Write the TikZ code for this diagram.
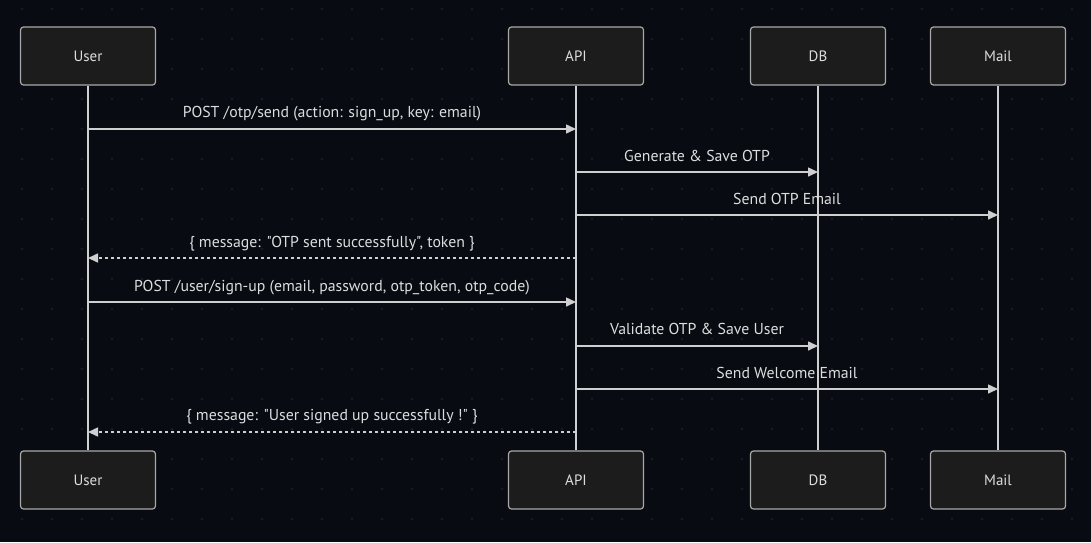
\documentclass[tikz,border=0pt]{standalone}
\usepackage{fontspec}
\setmainfont{PT Sans}[Ligatures=TeXOff]
\usetikzlibrary{arrows.meta}
\definecolor{bgc}{HTML}{080B12}
\definecolor{dotc}{HTML}{181C25}
\definecolor{boxfill}{HTML}{1C1C1C}
\definecolor{boxline}{HTML}{A8A8A8}
\definecolor{txt}{HTML}{DDDDDD}
\definecolor{linec}{HTML}{CFCFCF}
\tikzset{
  actor/.style={draw=boxline, fill=boxfill, line width=1.2pt, rounded corners=3pt,
    minimum width=135pt, minimum height=58pt, inner sep=0pt, text=txt,
    font=\fontsize{15}{17}\selectfont},
  life/.style={draw=linec, line width=1.5pt},
  msg/.style={draw=linec, line width=1.5pt, -{Triangle[length=10pt,width=9pt]}},
  reply/.style={msg, dash pattern=on 3pt off 3pt},
  lbl/.style={text=txt, font=\fontsize{15.8}{18}\selectfont, inner sep=0pt, anchor=base}
}
\begin{document}
\begin{tikzpicture}[x=1pt,y=-1pt]
\fill[bgc] (0,0) rectangle (1091,542);
\useasboundingbox (0,0) rectangle (1091,542);
\foreach \xx in {22,52,...,1090} {
  \foreach \yy in {9,39,...,540} {
    \fill[dotc] (\xx,\yy) circle (1.3pt);
  }
}
% actors
\node[actor] (userT) at (88,56) {User};
\node[actor] (apiT) at (576,56) {API};
\node[actor] (dbT) at (818,56) {DB};
\node[actor] (mailT) at (998,56) {Mail};
\node[actor] (userB) at (88,480) {User};
\node[actor] (apiB) at (576,480) {API};
\node[actor] (dbB) at (818,480) {DB};
\node[actor] (mailB) at (998,480) {Mail};
% lifelines
\draw[life] (userT.south) -- (userB.north);
\draw[life] (apiT.south) -- (apiB.north);
\draw[life] (dbT.south) -- (dbB.north);
\draw[life] (mailT.south) -- (mailB.north);
% message anchor points
\coordinate (u1) at (88,129);  \coordinate (a1) at (576,129);
\coordinate (a2) at (576,172); \coordinate (d2) at (818,172);
\coordinate (a3) at (576,215); \coordinate (m3) at (998,215);
\coordinate (a4) at (576,258); \coordinate (u4) at (88,258);
\coordinate (u5) at (88,302);  \coordinate (a5) at (576,302);
\coordinate (a6) at (576,346); \coordinate (d6) at (818,346);
\coordinate (a7) at (576,389); \coordinate (m7) at (998,389);
\coordinate (a8) at (576,432); \coordinate (u8) at (88,432);
% messages
\draw[msg] (u1) -- (a1);
\node[lbl] (l1) at (332,117) {POST /otp/send (action: sign\_up, key: email)};
\draw[msg] (a2) -- (d2);
\node[lbl] (l2) at (697,161) {Generate \& Save OTP};
\draw[msg] (a3) -- (m3);
\node[lbl] (l3) at (787,204) {Send OTP Email};
\draw[reply] (a4) -- (u4);
\node[lbl] (l4) at (332,247) {\{ message: "OTP sent successfully", token \}};
\draw[msg] (u5) -- (a5);
\node[lbl] (l5) at (332,291) {POST /user/sign-up (email, password, otp\_token, otp\_code)};
\draw[msg] (a6) -- (d6);
\node[lbl] (l6) at (697,334) {Validate OTP \& Save User};
\draw[msg] (a7) -- (m7);
\node[lbl] (l7) at (787,378) {Send Welcome Email};
\draw[reply] (a8) -- (u8);
\node[lbl] (l8) at (332,420) {\{ message: "User signed up successfully !" \}};
\end{tikzpicture}
\end{document}
